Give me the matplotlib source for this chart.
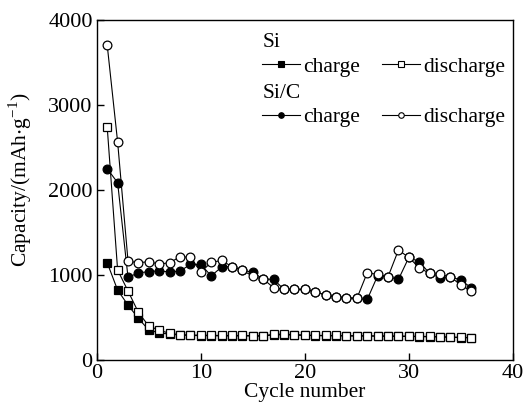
import numpy as np
import matplotlib.pyplot as plt
from matplotlib.lines import Line2D

plt.rcParams['font.family'] = ['Liberation Serif', 'DejaVu Serif']
plt.rcParams['mathtext.fontset'] = 'stix'

# --- dados ---
cycles = np.arange(1, 37)

si_charge = [1144, 823, 647, 490, 353, 321, 305, 295, 290, 288, 287, 285, 285, 285, 284, 282,
             298, 298, 295, 290, 288, 286, 285, 284, 283, 283, 281, 280, 279, 278, 276, 274,
             272, 268, 265, 262]
si_discharge = [2737, 1059, 812, 561, 400, 353, 314, 300, 295, 294, 292, 290, 290, 290, 288, 285,
                305, 305, 300, 295, 292, 290, 290, 288, 287, 287, 285, 285, 283, 282, 280, 278,
                276, 272, 268, 265]
sic_charge = [2250, 2086, 972, 1027, 1039, 1051, 1035, 1047, 1125, 1125, 990, 1095, 1098, 1059,
              1031, 953, 949, 831, 831, 831, 804, 764, 745, 733, 725, 713, 992, 980, 949, 1207,
              1157, 1019, 968, 980, 941, 851]
sic_discharge = [3701, 2564, 1164, 1145, 1157, 1129, 1145, 1215, 1208, 1035, 1149, 1172, 1098, 1059,
                 984, 953, 851, 833, 831, 831, 804, 764, 745, 733, 725, 1027, 1007, 980, 1294, 1207,
                 1086, 1019, 1007, 980, 882, 811]

fig = plt.figure(figsize=(5.32, 4.13), dpi=100)
ax = fig.add_axes([0.182, 0.128, 0.782, 0.824])

lw = 0.8
ax.plot(cycles, si_charge, '-s', color='black', lw=lw, ms=5.2, mfc='black', mec='black', mew=0.9)
ax.plot(cycles, si_discharge, '-s', color='black', lw=lw, ms=5.2, mfc='white', mec='black', mew=0.9)
ax.plot(cycles, sic_charge, '-o', color='black', lw=lw, ms=6.3, mfc='black', mec='black', mew=0.9)
ax.plot(cycles, sic_discharge, '-o', color='black', lw=lw, ms=6.3, mfc='white', mec='black', mew=0.9)

ax.set_xlim(0, 40)
ax.set_ylim(0, 4000)
ax.set_xticks([0, 10, 20, 30, 40])
ax.set_yticks([0, 1000, 2000, 3000, 4000])
ax.tick_params(direction='in', length=5, width=1, labelsize=16, top=False, right=False, pad=3)
for s in ax.spines.values():
    s.set_linewidth(1.0)

ax.set_xlabel('Cycle number', fontsize=15.5, labelpad=0)
ax.set_ylabel(r'Capacity/(mAh$\cdot$g$^{\mathregular{-1}}$)', fontsize=15.5)
ax.yaxis.set_label_coords(-0.15, 0.53)

# --- legendas ---
def handle(marker, filled):
    return Line2D([], [], color='black', lw=lw, marker=marker, ms=4,
                  mfc='black' if filled else 'white', mec='black', mew=0.8)

kw = dict(ncol=2, frameon=False, fontsize=15.5, title_fontsize=15.5, alignment='left',
          handlelength=1.75, handletextpad=0.15, columnspacing=1.02, borderpad=0.0,
          borderaxespad=0.0, labelspacing=0.2)
leg1 = ax.legend([handle('s', True), handle('s', False)], ['charge', 'discharge'],
                 title='Si', loc='upper left', bbox_to_anchor=(0.398, 0.96), **kw)
ax.add_artist(leg1)
leg2 = ax.legend([handle('o', True), handle('o', False)], ['charge', 'discharge'],
                 title='Si/C', loc='upper left', bbox_to_anchor=(0.398, 0.812), **kw)

fig.savefig('out.png', dpi=100)
